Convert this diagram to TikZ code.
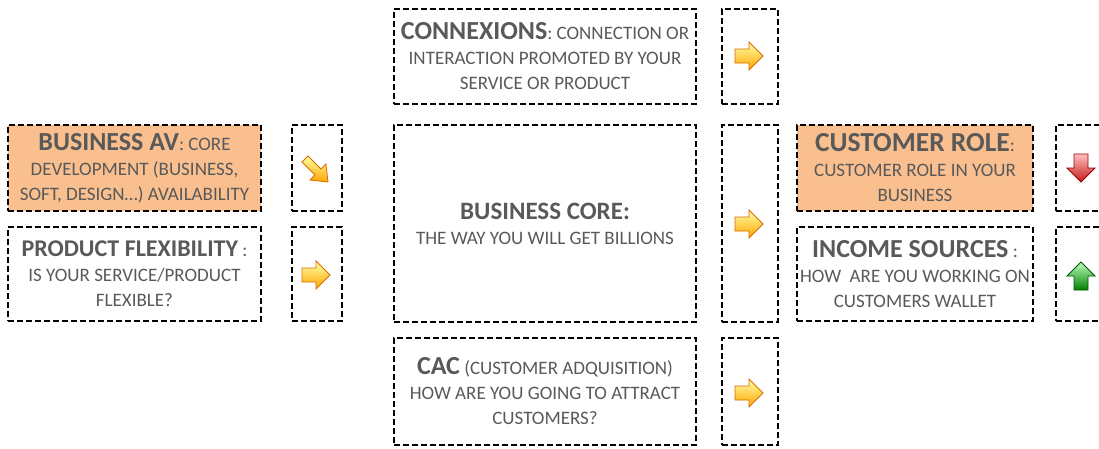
\documentclass[tikz,border=0pt]{standalone}
\usepackage{fontspec}
\setmainfont{Carlito}
\definecolor{textgray}{HTML}{595959}
\definecolor{boxorange}{HTML}{F9BF8F}
\newcommand\hd[2][26]{{\fontsize{#1}{28}\selectfont\bfseries #2}}
\begin{document}
\begin{tikzpicture}[x=1pt,y=-1pt,
  dbox/.style={draw=black, line width=2.4pt, dash pattern=on 6pt off 3pt,
    inner sep=0pt, align=center, text=textgray,
    font=\fontsize{19}{25}\selectfont},
  hot/.style={fill=boxorange},
  yarrow/.style={top color=yellow!35!white, bottom color=orange!70!yellow, draw=orange!85!black, line width=0.8pt},
  rarrow/.style={top color=red!25!white, bottom color=red!75!black!90, draw=red!60!black, line width=0.8pt},
  garrow/.style={top color=green!25!white, bottom color=green!50!black, draw=green!35!black, line width=0.8pt},
  pics/rightarrow/.style={code={
    \path[pic actions] (-14,-7) -- (0,-7) -- (0,-14) -- (14,0) -- (0,14) -- (0,7) -- (-14,7) -- cycle;}},
  pics/downarrow/.style={code={
    \path[pic actions] (-7,-14) -- (7,-14) -- (7,0) -- (14,0) -- (0,14) -- (-14,0) -- (-7,0) -- cycle;}},
  pics/uparrow/.style={code={
    \path[pic actions] (-7,14) -- (7,14) -- (7,0) -- (14,0) -- (0,-14) -- (-14,0) -- (-7,0) -- cycle;}},
  pics/diagarrow/.style={code={
    \path[pic actions] (-14,-8) -- (-8,-14) -- (5,-1) -- (10,-6) -- (12,12) -- (-6,10) -- (-1,5) -- cycle;}}
]
\useasboundingbox (0,0) rectangle (1099,448);
\clip (0,0) rectangle (1099,448);

% left column
\node[dbox, hot, minimum width=253pt, minimum height=86pt] (bizav) at (134.5,168)
  {\hd{BUSINESS AV}: CORE\\DEVELOPMENT (BUSINESS,\\SOFT, DESIGN…) AVAILABILITY};
\node[dbox, minimum width=253pt, minimum height=94pt] (flex) at (134.5,274)
  {\hd[24]{PRODUCT FLEXIBILITY} :\\IS YOUR SERVICE/PRODUCT\\FLEXIBLE?};
\node[dbox, minimum width=50pt, minimum height=86pt] (bizavarr) at (317,168) {};
\node[dbox, minimum width=50pt, minimum height=94pt] (flexarr) at (317,274) {};

% centre column
\node[dbox, minimum width=302pt, minimum height=95pt] (conn) at (545,56.5)
  {\hd{CONNEXIONS}: CONNECTION OR\\INTERACTION PROMOTED BY YOUR\\SERVICE OR PRODUCT};
\node[dbox, minimum width=302pt, minimum height=197pt] (core) at (545,223.5)
  {\hd[25]{BUSINESS CORE:}\\THE WAY YOU WILL GET BILLIONS};
\node[dbox, minimum width=302pt, minimum height=107pt] (cac) at (545,391.5)
  {\hd{CAC} (CUSTOMER ADQUISITION)\\HOW ARE YOU GOING TO ATTRACT\\CUSTOMERS?};
\node[dbox, minimum width=56pt, minimum height=95pt] (connarr) at (750,56.5) {};
\node[dbox, minimum width=56pt, minimum height=197pt] (corearr) at (750,223.5) {};
\node[dbox, minimum width=56pt, minimum height=107pt] (cacarr) at (750,391.5) {};

% right column
\node[dbox, hot, minimum width=236pt, minimum height=86pt] (role) at (915,168)
  {\hd[27.5]{CUSTOMER ROLE}:\\CUSTOMER ROLE IN YOUR\\BUSINESS};
\node[dbox, minimum width=236pt, minimum height=94pt] (income) at (915,274)
  {\hd{INCOME SOURCES} :\\HOW\ \ ARE YOU WORKING ON\\CUSTOMERS WALLET};
\node[dbox, minimum width=60pt, minimum height=86pt] (rolearr) at (1086,168) {};
\node[dbox, minimum width=60pt, minimum height=94pt] (incomearr) at (1086,274) {};

% block arrows
\pic[yarrow] (a1) at (316,170) {diagarrow};
\pic[yarrow] (a2) at (316,275) {rightarrow};
\pic[yarrow] (a3) at (749,56) {rightarrow};
\pic[yarrow] (a4) at (749,224) {rightarrow};
\pic[yarrow] (a5) at (749,393) {rightarrow};
\pic[rarrow] (a6) at (1081,168) {downarrow};
\pic[garrow] (a7) at (1081,276) {uparrow};
\end{tikzpicture}
\end{document}
